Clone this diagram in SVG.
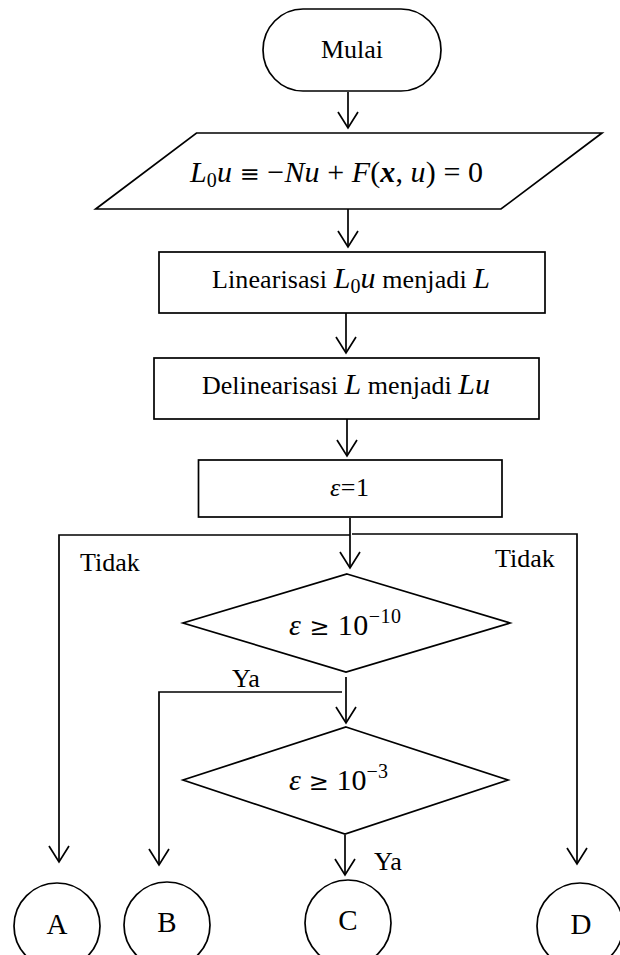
<svg xmlns="http://www.w3.org/2000/svg" width="620" height="955" viewBox="0 0 620 955">
<defs>
<style>
.s{fill:#fff;stroke:#000;stroke-width:1.7}
.c{fill:none;stroke:#000;stroke-width:1.7}
text{font-family:"Liberation Serif","Times New Roman",serif;font-size:26px;fill:#000}
.m{text-anchor:middle}
.i{font-style:italic}
.mt{font-size:30px}
.sym{font-family:"DejaVu Serif","Liberation Serif",serif;font-size:24px}
.sub{font-size:20px}
.big{font-size:29px}
</style>
<marker id="ah" markerUnits="userSpaceOnUse" markerWidth="20" markerHeight="24" viewBox="-18 -12 20 24" refX="0" refY="0" orient="auto" overflow="visible">
<path d="M -16 -10 L 0 0 L -16 10" fill="none" stroke="#000" stroke-width="1.7"/>
</marker>
</defs>
<rect width="620" height="955" fill="#fff"/>
<g id="connectors">
<line class="c" x1="348" y1="92" x2="348" y2="128" marker-end="url(#ah)"/>
<line class="c" x1="348" y1="209" x2="348" y2="247" marker-end="url(#ah)"/>
<line class="c" x1="346" y1="313" x2="346" y2="353" marker-end="url(#ah)"/>
<line class="c" x1="347" y1="419" x2="347" y2="456" marker-end="url(#ah)"/>
<line class="c" x1="350" y1="518" x2="350" y2="568" marker-end="url(#ah)"/>
<polyline class="c" points="350,535 59,535 59,862" marker-end="url(#ah)"/>
<polyline class="c" points="352,534 577,534 577,864" marker-end="url(#ah)"/>
<line class="c" x1="346" y1="677" x2="346" y2="723" marker-end="url(#ah)"/>
<polyline class="c" points="342,692 159,692 159,865" marker-end="url(#ah)"/>
<line class="c" x1="345" y1="835" x2="345" y2="875" marker-end="url(#ah)"/>
<text x="80" y="571">Tidak</text>
<text x="495" y="567">Tidak</text>
<text x="232" y="687">Ya</text>
<text x="374" y="870">Ya</text>
</g>
<g id="mulai">
<rect class="s" x="263" y="9" width="178" height="82" rx="40" ry="41"/>
<text class="m" x="352" y="58">Mulai</text>
</g>
<g id="input">
<polygon class="s" points="196.5,133 602,133 501,209 95.7,209"/>
<text class="mt" x="190" y="182" textLength="293" lengthAdjust="spacing"><tspan class="i">L</tspan><tspan class="sub" dy="5">0</tspan><tspan class="i" dy="-5">u</tspan> <tspan class="sym">≡</tspan> −<tspan class="i">Nu</tspan> + <tspan class="i">F</tspan>(<tspan class="i" font-weight="bold">x</tspan>, <tspan class="i">u</tspan>) = 0</text>
</g>
<g id="linearisasi">
<rect class="s" x="159" y="252" width="386" height="61"/>
<text x="212" y="288" textLength="278" lengthAdjust="spacing">Linearisasi <tspan class="i mt">L</tspan><tspan class="sub" dy="5">0</tspan><tspan class="i mt" dy="-5">u</tspan> menjadi <tspan class="i mt">L</tspan></text>
</g>
<g id="delinearisasi">
<rect class="s" x="154" y="358" width="385" height="61"/>
<text x="202" y="394" textLength="288" lengthAdjust="spacing">Delinearisasi <tspan class="i mt">L</tspan> menjadi <tspan class="i mt">Lu</tspan></text>
</g>
<g id="epsilon-init">
<rect class="s" x="198.5" y="460" width="303.5" height="57"/>
<text x="330" y="496" textLength="39" lengthAdjust="spacing"><tspan class="i">ε</tspan>=1</text>
</g>
<g id="decision1">
<polygon class="s" points="347,574 510,623 346,672 183,623"/>
<text class="mt" x="289" y="635" textLength="112" lengthAdjust="spacing"><tspan class="i">ε</tspan> <tspan class="sym">≥</tspan> 10<tspan class="sub" dy="-12">−10</tspan></text>
</g>
<g id="decision2">
<polygon class="s" points="346,727 508,780 345,834 183,780"/>
<text class="mt" x="289" y="790" textLength="99" lengthAdjust="spacing"><tspan class="i">ε</tspan> <tspan class="sym">≥</tspan> 10<tspan class="sub" dy="-12">−3</tspan></text>
</g>
<g id="A">
<circle class="s" cx="57" cy="926" r="43"/>
<text class="m big" x="57" y="934">A</text>
</g>
<g id="B">
<circle class="s" cx="167" cy="925" r="43"/>
<text class="m big" x="167" y="932">B</text>
</g>
<g id="C">
<circle class="s" cx="348" cy="923" r="43"/>
<text class="m big" x="348" y="930">C</text>
</g>
<g id="D">
<circle class="s" cx="580" cy="926" r="43"/>
<text class="m big" x="581" y="934">D</text>
</g>
</svg>
